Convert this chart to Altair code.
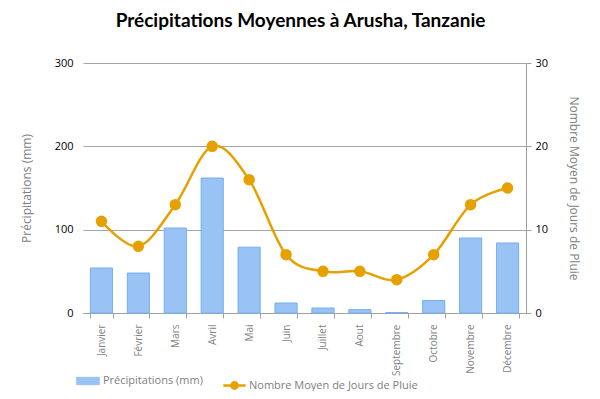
import altair as alt
import pandas as pd

mois = ["Janvier", "Février", "Mars", "Avril", "Mai", "Juin", "Juillet",
        "Aout", "Septembre", "Octobre", "Novembre", "Décembre"]
precip = [54, 48, 102, 162, 79, 12, 6, 4, 0.5, 15, 90, 84]
jours = [11, 8, 13, 20, 16, 7, 5, 5, 4, 7, 13, 15]

df = pd.DataFrame({"mois": mois, "precip": precip, "jours": jours})

AX_FONT = "Open Sans"
GREY = "#808080"
GOLD = "#e6a100"

x = alt.X("mois:N", sort=mois, title=None,
          scale=alt.Scale(paddingInner=0.4, paddingOuter=0.2),
          axis=alt.Axis(labelAngle=270, labelAlign="right", labelBaseline="middle",
                        labelColor="#7f7f7f", labelFont=AX_FONT, labelFontSize=10,
                        labelPadding=6, tickBand="extent", tickColor="#a0a0a0",
                        domainColor="#a0a0a0", tickSize=5, grid=False))

bars = alt.Chart(df).mark_bar(stroke="#74aef0", strokeWidth=1).encode(
    x=x,
    y=alt.Y("precip:Q", title="Précipitations (mm)",
            scale=alt.Scale(domain=[0, 300]),
            axis=alt.Axis(values=[0, 100, 200, 300], domain=False, ticks=False,
                          labelColor="#000000", labelFont=AX_FONT, labelFontSize=11,
                          labelPadding=10, titleColor=GREY, titleFont=AX_FONT,
                          titleFontSize=12, titleFontWeight="normal", titlePadding=21,
                          gridColor="#a6a6a6", gridWidth=1)),
    fill=alt.Fill("serie:N", scale=alt.Scale(domain=["Précipitations (mm)"], range=["#99c3f4"]),
                  legend=alt.Legend(title=None, orient="none", legendX=-3, legendY=310,
                                    symbolType="M-1.5,-0.5H1.5V0.5H-1.5Z",
                                    symbolSize=240, symbolStrokeColor="#74aef0",
                                    symbolStrokeWidth=0.3,
                                    labelFont=AX_FONT, labelFontSize=11, labelColor=GREY,
                                    labelOffset=7, labelLimit=0)),
).transform_calculate(serie="'Précipitations (mm)'")

line = alt.Chart(df).mark_line(
    interpolate="cardinal", strokeWidth=2.5,
    point=alt.OverlayMarkDef(filled=True, size=90, color=GOLD, opacity=1),
).encode(
    x=x,
    y=alt.Y("jours:Q", title="Nombre Moyen de Jours de Pluie",
            scale=alt.Scale(domain=[0, 30]),
            axis=alt.Axis(orient="right", values=[0, 10, 20, 30], grid=False,
                          domainColor="#a0a0a0", tickColor="#a0a0a0", tickSize=5,
                          labelColor="#000000", labelFont=AX_FONT, labelFontSize=11,
                          labelPadding=4, titleColor=GREY, titleFont=AX_FONT,
                          titleFontSize=12, titleFontWeight="normal", titleAngle=90,
                          titlePadding=19)),
    stroke=alt.Stroke("serie:N", scale=alt.Scale(domain=["Nombre Moyen de Jours de Pluie"], range=[GOLD]),
                      legend=alt.Legend(title=None, orient="none", legendX=139, legendY=310,
                                        symbolType="M-1,0H1M0.28,0A0.28,0.28 0 1,1 -0.28,0A0.28,0.28 0 1,1 0.28,0Z",
                                        symbolSize=500, symbolFillColor=GOLD,
                                        symbolStrokeWidth=2.5,
                                        labelFont=AX_FONT, labelFontSize=11, labelColor=GREY,
                                        labelOffset=2, labelLimit=0)),
).transform_calculate(serie="'Nombre Moyen de Jours de Pluie'")

chart = alt.layer(bars, line).resolve_scale(y="independent").properties(
    width=443, height=250,
    autosize=alt.AutoSizeParams(type="none"),
    padding={"left": 75, "top": 55, "right": 66, "bottom": 78},
    title=alt.TitleParams("Précipitations Moyennes à Arusha, Tanzanie",
                          font="Lato", fontSize=19, fontWeight="bold", color="#000000",
                          anchor="middle", offset=26, dx=-4),
).configure_view(stroke=None)

chart.save("out.html", embed_options={"renderer": "svg", "actions": False})
